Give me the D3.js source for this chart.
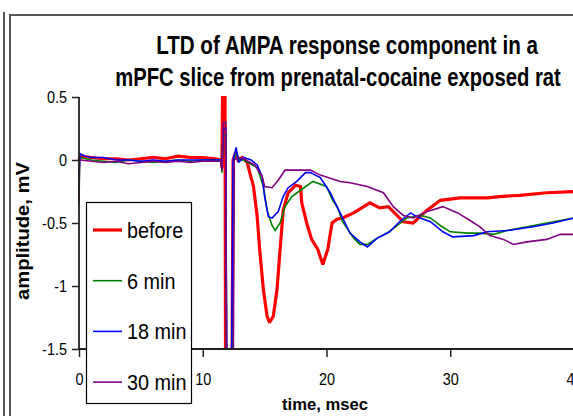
<!DOCTYPE html>
<html><head><meta charset="utf-8">
<script src="https://cdn.jsdelivr.net/npm/d3@7"></script>
<style>body{margin:0;background:#fff}svg{display:block}text{font-family:Arial,"Liberation Sans",sans-serif;fill:#000}</style>
</head><body><svg id="c" width="573" height="416"></svg>
<script>
// ---------- data ----------
const titleLines = ["LTD of AMPA response component in a", "mPFC slice from prenatal-cocaine exposed rat"];
const xLabel = "time, msec";
const yLabel = "amplitude, mV";
const xTicks = [0, 10, 20, 30, 40];
const yTicks = [0.5, 0, -0.5, -1, -1.5];
const seriesNames = ["before", "6 min", "18 min", "30 min"];
const seriesColors = ["#ff0000", "#008000", "#0000ff", "#800080"];

// [time (msec), amplitude (mV)]
const before = [[0,0.0],[0.1,0.03],[1,0.02],[2,0.01],[3,0.01],[4,0.0],[5,0.01],[6,0.02],[7,0.01],[8,0.03],[9,0.02],[10,0.02],[11,0.01],[11.5,0.0],[11.55,-0.06],[11.6,0.52],[11.8,0.52],[11.85,-2],[12.35,-2],[12.45,0.0],[12.65,0.06],[12.85,0.0],[13.2,0.02],[13.6,-0.02],[13.8,-0.1],[14.1,-0.21],[14.4,-0.45],[14.6,-0.71],[14.9,-1.03],[15.2,-1.24],[15.4,-1.29],[15.7,-1.24],[16.0,-1.03],[16.25,-0.71],[16.5,-0.4],[16.9,-0.26],[17.5,-0.2],[17.9,-0.21],[18.0,-0.34],[18.4,-0.5],[18.8,-0.63],[19.3,-0.71],[19.7,-0.83],[20.1,-0.71],[20.45,-0.5],[20.85,-0.47],[21.3,-0.46],[22.2,-0.42],[23.5,-0.34],[24.3,-0.38],[25.0,-0.37],[25.7,-0.44],[26.2,-0.49],[27.0,-0.5],[28.1,-0.4],[29.2,-0.32],[30.8,-0.3],[33.0,-0.3],[34.0,-0.29],[35.6,-0.28],[37.8,-0.26],[40,-0.25]];
const min6 = [[0,-0.3],[0.05,0.02],[1,0.0],[2,-0.01],[3,-0.02],[4,0.0],[5,-0.01],[6,-0.02],[7,-0.01],[8,0.0],[9,-0.01],[10,0.0],[11,0.0],[11.5,0.0],[11.55,-0.1],[11.65,0.2],[11.85,0.2],[11.95,-2],[12.4,-2],[12.5,0.0],[12.7,0.05],[13.0,0.0],[13.3,0.0],[14.4,-0.06],[14.9,-0.21],[15.2,-0.4],[15.6,-0.52],[15.85,-0.56],[16.25,-0.5],[16.65,-0.37],[17.2,-0.29],[17.9,-0.24],[18.9,-0.17],[20.0,-0.21],[20.5,-0.32],[20.9,-0.38],[21.3,-0.49],[22.2,-0.62],[22.7,-0.67],[23.3,-0.67],[24.1,-0.62],[24.9,-0.58],[25.7,-0.52],[26.5,-0.46],[27.6,-0.44],[28.4,-0.46],[29.2,-0.52],[30.0,-0.57],[31.4,-0.58],[32.4,-0.58],[33.5,-0.59],[34.6,-0.56],[36.2,-0.53],[37.8,-0.5],[38.9,-0.48],[40,-0.46]];
const min18 = [[0,-0.1],[0.1,0.05],[0.5,0.03],[1,0.02],[2,0.02],[3,0.0],[4,0.0],[5,-0.01],[6,0.0],[7,-0.01],[8,0.0],[9,0.0],[10,0.0],[11,0.0],[11.5,0.0],[11.55,-0.08],[11.65,0.25],[11.85,0.25],[11.95,-2],[12.3,-2],[12.45,0.0],[12.7,0.1],[12.9,-0.02],[13.3,0.02],[13.9,0.0],[14.4,-0.04],[14.8,-0.13],[15.0,-0.29],[15.3,-0.45],[15.6,-0.46],[16.1,-0.41],[16.5,-0.29],[16.9,-0.22],[17.6,-0.17],[18.3,-0.1],[18.7,-0.1],[19.5,-0.14],[20.3,-0.26],[21.1,-0.42],[21.9,-0.58],[22.7,-0.65],[23.3,-0.69],[24.1,-0.62],[25.1,-0.57],[25.9,-0.49],[26.8,-0.42],[27.3,-0.45],[28.4,-0.49],[29.4,-0.57],[30.2,-0.61],[31.9,-0.6],[33.0,-0.57],[34.6,-0.56],[36.7,-0.53],[38.3,-0.5],[40,-0.46]];
const min30 = [[0,-0.35],[0.05,0.0],[1,-0.01],[2,-0.02],[3,-0.01],[4,-0.03],[5,-0.02],[6,-0.01],[7,-0.02],[8,-0.01],[9,-0.02],[10,-0.01],[11,-0.01],[11.5,-0.01],[11.55,-0.08],[11.65,0.3],[11.85,0.3],[11.95,-2],[12.45,-2],[12.55,0.0],[12.8,0.02],[13.3,0.01],[14.2,-0.04],[14.8,-0.13],[15.0,-0.21],[15.6,-0.22],[16.1,-0.16],[16.65,-0.08],[17.9,-0.08],[18.7,-0.08],[19.5,-0.12],[21.1,-0.17],[21.9,-0.18],[23.3,-0.21],[24.6,-0.26],[25.4,-0.37],[26.2,-0.44],[27.0,-0.46],[28.1,-0.41],[29.4,-0.37],[30.6,-0.42],[31.6,-0.48],[32.4,-0.53],[33.2,-0.6],[34.3,-0.63],[35.1,-0.67],[36.2,-0.65],[37.8,-0.63],[38.9,-0.59],[40,-0.59]];
const seriesData = [before, min6, min18, min30];

// ---------- drawing ----------
const svg = d3.select("#c");
const W = 573, H = 416;
const plot = {left: 79, right: 574, top: 97, bottom: 349};
const x = d3.scaleLinear().domain([0, 40]).range([plot.left, plot.right]);
const y = d3.scaleLinear().domain([-1.5, 0.5]).range([plot.bottom, plot.top]);

function condense(sel, k) {
  sel.each(function () {
    const w = this.getComputedTextLength();
    this.setAttribute("textLength", w * k);
    this.setAttribute("lengthAdjust", "spacingAndGlyphs");
  });
}

svg.append("rect").attr("width", W).attr("height", H).attr("fill", "#fff");

// frame
svg.append("line").attr("x1", 4).attr("x2", 4).attr("y1", 12).attr("y2", H)
  .attr("stroke", "#555").attr("stroke-width", 2);
svg.append("rect").attr("x", 10).attr("y", 15).attr("width", 700).attr("height", 600)
  .attr("fill", "none").attr("stroke", "#555").attr("stroke-width", 2);

// title (horizontally compressed via transform)
const titleSpecs = [{cx: 347, base: 54, len: 382}, {cx: 338, base: 86, len: 446}];
titleLines.forEach((t, i) => {
  const g = svg.append("g");
  const tx = g.append("text").attr("x", 0).attr("y", 0)
    .attr("text-anchor", "middle").attr("font-size", 25.5).attr("font-weight", "bold")
    .text(t);
  const w = tx.node().getComputedTextLength();
  g.attr("transform", `translate(${titleSpecs[i].cx},${titleSpecs[i].base}) scale(${titleSpecs[i].len / w},1)`);
});

// lines
svg.append("clipPath").attr("id", "clip").append("rect")
  .attr("x", plot.left - 2).attr("y", plot.top - 1)
  .attr("width", plot.right - plot.left + 4).attr("height", plot.bottom - plot.top + 1);
const line = d3.line().x(d => x(d[0])).y(d => y(d[1]));
const widths = [3.2, 1.6, 1.6, 1.6];
const lg = svg.append("g").attr("clip-path", "url(#clip)");
seriesData.forEach((s, i) => {
  lg.append("path").datum(s).attr("d", line).attr("fill", "none")
    .attr("stroke", seriesColors[i]).attr("stroke-width", widths[i])
    .attr("stroke-linejoin", "miter").attr("stroke-miterlimit", 2);
});

// axes
const fmt = v => String(v);
const yAxis = svg.append("g").attr("transform", `translate(${plot.left},0)`)
  .call(d3.axisLeft(y).tickValues(yTicks).tickSize(7).tickPadding(5).tickFormat(fmt));
const xAxis = svg.append("g").attr("transform", `translate(0,${plot.bottom})`)
  .call(d3.axisBottom(x).tickValues(xTicks).tickSize(8).tickPadding(16).tickFormat(fmt));
[yAxis, xAxis].forEach(a => {
  a.select(".domain").attr("stroke", "#222").attr("stroke-width", 1.8);
  a.selectAll(".tick line").attr("stroke", "#222").attr("stroke-width", 1.5);
  a.selectAll(".tick text").attr("font-size", 17).attr("font-family", "Arial, 'Liberation Sans', sans-serif").attr("fill", "#000");
});
yAxis.select(".domain").attr("d", `M0,${plot.top}V${plot.bottom}`);
xAxis.select(".domain").attr("d", `M${plot.left},0H${plot.right}`);
condense(yAxis.selectAll(".tick text"), 0.85);
condense(xAxis.selectAll(".tick text"), 0.85);

// axis titles
svg.append("text").attr("transform", `translate(29,231) rotate(-90)`)
  .attr("text-anchor", "middle").attr("font-size", 18).attr("font-weight", "bold")
  .attr("textLength", 138).attr("lengthAdjust", "spacingAndGlyphs").text(yLabel);
svg.append("text").attr("x", 325).attr("y", 410)
  .attr("text-anchor", "middle").attr("font-size", 17).attr("font-weight", "bold")
  .attr("textLength", 86).attr("lengthAdjust", "spacingAndGlyphs").text(xLabel);

// legend
const leg = svg.append("g");
leg.append("rect").attr("x", 86.5).attr("y", 202.5).attr("width", 105).attr("height", 201)
  .attr("fill", "#fff").attr("stroke", "#000").attr("stroke-width", 1.2);
seriesNames.forEach((n, i) => {
  const cy = 230 + i * 50.7;
  leg.append("line").attr("x1", 93).attr("x2", 122).attr("y1", cy).attr("y2", cy)
    .attr("stroke", seriesColors[i]).attr("stroke-width", widths[i]);
  leg.append("text").attr("x", 127).attr("y", cy + 8).attr("font-size", 22).text(n)
    .call(condense, 0.9);
});
</script></body></html>
